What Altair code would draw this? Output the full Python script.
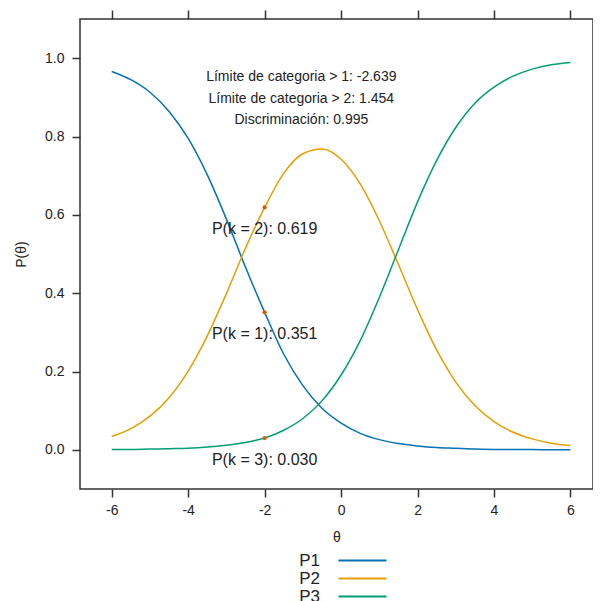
import altair as alt
import pandas as pd

# values
theta = [-6.0, -5.5, -5.0, -4.5, -4.0, -3.5, -3.0, -2.5, -2.0, -1.5, -1.0, -0.5,
         0.0, 0.5, 1.0, 1.5, 2.0, 2.5, 3.0, 3.5, 4.0, 4.5, 5.0, 5.5, 6.0]
p1 = [0.966, 0.945, 0.913, 0.864, 0.795, 0.702, 0.589, 0.466, 0.351, 0.244, 0.164, 0.106,
      0.068, 0.042, 0.026, 0.016, 0.010, 0.006, 0.004, 0.002, 0.001, 0.001, 0.001, 0.000, 0.000]
p2 = [0.034, 0.054, 0.086, 0.133, 0.201, 0.291, 0.399, 0.515, 0.619, 0.706, 0.756, 0.768,
      0.742, 0.679, 0.585, 0.473, 0.358, 0.255, 0.173, 0.113, 0.072, 0.045, 0.028, 0.017, 0.011]
p3 = [0.001, 0.001, 0.002, 0.003, 0.004, 0.007, 0.012, 0.019, 0.030, 0.050, 0.080, 0.125,
      0.191, 0.279, 0.389, 0.511, 0.633, 0.739, 0.823, 0.885, 0.926, 0.954, 0.972, 0.983, 0.989]
series = ["P1", "P2", "P3"]
colors = ["#0072B2", "#E69F00", "#009E73"]

point_theta = [-2.0, -2.0, -2.0]
point_p = [0.619, 0.351, 0.030]
point_labels = ["P(k = 2): 0.619", "P(k = 1): 0.351", "P(k = 3): 0.030"]

info_theta = [-1.04, -1.04, -1.04]
info_p = [0.953, 0.897, 0.842]
info_labels = ["Límite de categoria > 1: -2.639",
               "Límite de categoria > 2: 1.454",
               "Discriminación: 0.995"]

x_ticks = [-6, -4, -2, 0, 2, 4, 6]
y_ticks = [0.0, 0.2, 0.4, 0.6, 0.8, 1.0]

rows = []
for name, vals in zip(series, [p1, p2, p3]):
    for t, v in zip(theta, vals):
        rows.append({"theta": t, "P": v, "serie": name})
df = pd.DataFrame(rows)
pts = pd.DataFrame({"theta": point_theta, "P": point_p, "label": point_labels})
info = pd.DataFrame({"theta": info_theta, "P": info_p, "label": info_labels})

FONT = "Liberation Sans"
xscale = alt.Scale(domain=[-6.83, 6.59], nice=False, zero=False)
yscale = alt.Scale(domain=[-0.1, 1.1], nice=False, zero=False)

axis_common = dict(domain=False, grid=False, tickColor="#333333", tickWidth=1.5,
                   tickSize=8, labelFont=FONT, labelFontSize=14, labelColor="#222222",
                   titleFont=FONT, titleFontSize=14, titleColor="#222222",
                   titleFontWeight="normal")

y_enc = alt.Y("P:Q", scale=yscale,
              axis=alt.Axis(values=y_ticks, format=".1f", title="P(θ)",
                            labelPadding=8, titlePadding=16, **axis_common))

x_bottom = alt.X("theta:Q", scale=xscale,
                 axis=alt.Axis(values=x_ticks, labelExpr="'' + datum.value",
                               title="θ", orient="bottom",
                               labelPadding=6, titlePadding=13, **axis_common))
x_top = alt.X("theta:Q", scale=xscale,
              axis=alt.Axis(values=x_ticks, orient="top", labels=False, title=None,
                            domain=False, grid=False, tickColor="#333333",
                            tickWidth=1.5, tickSize=9))
x_none = alt.X("theta:Q", scale=xscale, axis=None)

lines = alt.Chart(df).mark_line(strokeWidth=1.5, interpolate="monotone").encode(
    x=x_bottom,
    y=y_enc,
    color=alt.Color("serie:N", scale=alt.Scale(domain=series, range=colors),
                    legend=alt.Legend(title=None, orient="none", legendX=274, legendY=533,
                                      symbolType="M-4,0H4", symbolSize=144,
                                      symbolStrokeWidth=2, labelAlign="right",
                                      labelOffset={"expr": "-51"}, labelFont=FONT,
                                      labelFontSize=17, labelColor="#222222",
                                      rowPadding=0, labelBaseline="middle")),
    detail="serie:N",
)

points = alt.Chart(pts).mark_circle(size=18, color="#D55E00", opacity=1).encode(
    x=x_top, y=y_enc)

point_text = alt.Chart(pts).mark_text(font=FONT, fontSize=16, color="#222222",
                                      dy=22, align="center", baseline="middle").encode(
    x=x_none, y=y_enc, text="label:N")

info_text = alt.Chart(info).mark_text(font=FONT, fontSize=14, color="#222222",
                                      align="center", baseline="middle").encode(
    x=x_none, y=y_enc, text="label:N")

chart = alt.layer(lines, points, point_text, info_text).resolve_axis(
    x="independent"
).properties(
    width=513, height=470,
    padding={"left": 72, "top": 11, "right": 0, "bottom": 112},
    autosize=alt.AutoSizeParams(type="none"),
).configure_view(stroke="#333333", strokeWidth=1.5)

chart.save("out.html", embed_options={"renderer": "svg", "actions": False})
